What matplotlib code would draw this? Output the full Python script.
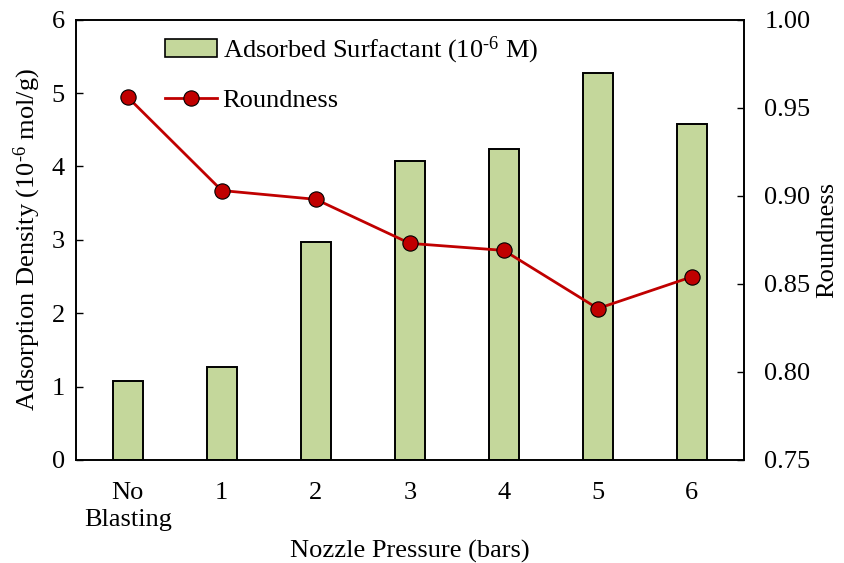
import matplotlib.pyplot as plt
from matplotlib.patches import Patch
from matplotlib.lines import Line2D

plt.rcParams['font.family'] = ['Liberation Serif', 'DejaVu Serif']
plt.rcParams['mathtext.fontset'] = 'custom'
plt.rcParams['mathtext.rm'] = 'Liberation Serif'
plt.rcParams['mathtext.it'] = 'Liberation Serif:italic'

categories = ["No\nBlasting", "1", "2", "3", "4", "5", "6"]
adsorption = [1.08, 1.27, 2.97, 4.08, 4.24, 5.27, 4.58]
roundness = [0.956, 0.903, 0.898, 0.873, 0.869, 0.836, 0.854]

FS = 19


def show_graph():
    fig, ax = plt.subplots(figsize=(8.45, 5.63), dpi=100)
    fig.subplots_adjust(left=0.09, right=0.88, top=0.965, bottom=0.183)
    x = list(range(len(categories)))

    ax.bar(x, adsorption, width=0.32, color="#c4d79b", edgecolor="black", linewidth=1.4, zorder=2)
    ax.set_ylim(0, 6)
    ax.set_xlim(-0.55, 6.55)
    ax.set_xticks(x)
    ax.set_xticklabels(categories, fontsize=FS, linespacing=1.3)
    ax.set_yticks(range(0, 7))
    ax.tick_params(axis="both", direction="in", labelsize=FS, length=5, width=1)
    ax.tick_params(axis="x", pad=16)
    ax.tick_params(axis="y", pad=8)
    ax.set_ylabel(r"Adsorption Density (10$^{\text{-6}}$ mol/g)", fontsize=FS, labelpad=6)
    ax.set_xlabel("Nozzle Pressure (bars)", fontsize=FS, labelpad=6)

    ax2 = ax.twinx()
    ax2.plot(x, roundness, color="#c00000", linewidth=2, marker="o", markersize=11,
             markerfacecolor="#c00000", markeredgecolor="black", markeredgewidth=0.8, zorder=3)
    ax2.set_ylim(0.75, 1.00)
    ax2.set_yticks([0.75, 0.80, 0.85, 0.90, 0.95, 1.00])
    ax2.set_yticklabels(["%.2f" % v for v in [0.75, 0.80, 0.85, 0.90, 0.95, 1.00]])
    ax2.tick_params(axis="y", direction="in", labelsize=FS, length=5, width=1, pad=15)
    ax2.set_ylabel("Roundness", fontsize=FS, labelpad=4)

    for a in (ax, ax2):
        for s in a.spines.values():
            s.set_linewidth(1.2)

    handles = [
        Patch(facecolor="#c4d79b", edgecolor="black", linewidth=1.2),
        Line2D([0], [0], color="#c00000", linewidth=2, marker="o", markersize=11,
               markerfacecolor="#c00000", markeredgecolor="black", markeredgewidth=0.8),
    ]
    labels = [r"Adsorbed Surfactant (10$^{\text{-6}}$ M)", "Roundness"]
    ax2.legend(handles, labels, loc="upper left", bbox_to_anchor=(0.097, 1.02), frameon=False,
               fontsize=FS, handlelength=2.0, handleheight=0.7, handletextpad=0.2,
               labelspacing=0.85)

    fig.savefig("out.png", dpi=100)


def main():
    show_graph()


if __name__ == "__main__":
    main()
